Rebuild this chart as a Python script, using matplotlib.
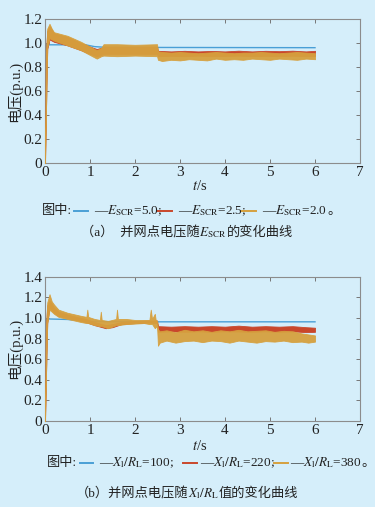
import numpy as np
import matplotlib.pyplot as plt
from matplotlib.lines import Line2D

plt.rcParams['mathtext.fontset'] = 'stix'
SERIF = ['Liberation Serif', 'Noto Sans CJK SC']

# ---- panel (a): voltage vs E_SCR (envelope of the oscillating waveforms) ----
a_blue_t = [0, 0.03, 0.06, 0.9, 1.1, 1.3, 2.5, 6.0]
a_blue_v = [0, 0.99, 0.985, 0.985, 0.97, 0.965, 0.963, 0.961]

a_red_t  = [0, 0.02, 0.05, 0.1, 0.15, 0.2, 0.5, 0.8, 1.0, 1.15, 1.25, 1.3, 1.6, 2.0, 2.49,
            2.51, 2.8, 3.1, 3.4, 3.7, 4.0, 4.3, 4.6, 4.9, 5.2, 5.5, 5.8, 6.0]
a_red_lo = [0, 0.4, 0.95, 1.03, 1.02, 1.01, 0.98, 0.94, 0.91, 0.89, 0.90, 0.91, 0.91, 0.91, 0.91,
            0.89, 0.893, 0.89, 0.895, 0.89, 0.892, 0.895, 0.89, 0.893, 0.89, 0.894, 0.89, 0.892]
a_red_hi = [0, 0.9, 1.10, 1.14, 1.11, 1.08, 1.05, 1.00, 0.97, 0.95, 0.96, 0.97, 0.97, 0.97, 0.97,
            0.935, 0.93, 0.935, 0.93, 0.934, 0.93, 0.936, 0.93, 0.935, 0.932, 0.936, 0.93, 0.935]

a_yel_t  = [0, 0.02, 0.05, 0.1, 0.15, 0.2, 0.5, 0.8, 1.0, 1.15, 1.25, 1.3, 1.6, 2.0, 2.49,
            2.51, 2.6, 2.8, 3.0, 3.2, 3.4, 3.6, 3.8, 4.0, 4.2, 4.4, 4.6, 4.8, 5.0, 5.2, 5.4, 5.6,
            5.8, 6.0]
a_yel_lo = [0, 0.4, 0.96, 1.04, 1.03, 1.02, 0.98, 0.94, 0.90, 0.87, 0.89, 0.895, 0.89, 0.895, 0.89,
            0.86, 0.85, 0.86, 0.855, 0.865, 0.86, 0.855, 0.87, 0.86, 0.865, 0.86, 0.87, 0.865,
            0.86, 0.87, 0.865, 0.86, 0.87, 0.865]
a_yel_hi = [0, 0.9, 1.12, 1.16, 1.12, 1.09, 1.06, 1.01, 0.97, 0.94, 0.96, 0.99, 0.99, 0.985, 0.99,
            0.93, 0.925, 0.92, 0.925, 0.92, 0.915, 0.92, 0.925, 0.92, 0.915, 0.92, 0.92, 0.925,
            0.92, 0.915, 0.92, 0.925, 0.92, 0.915]

# ---- panel (b): voltage vs X_l/R_L ----
b_blue_t = [0, 0.03, 0.06, 0.5, 1.0, 2.5, 6.0]
b_blue_v = [0, 0.99, 0.99, 0.985, 0.965, 0.962, 0.962]

b_red_t  = [0, 0.02, 0.05, 0.1, 0.2, 0.3, 0.6, 0.9, 1.1, 1.35, 1.5, 1.7, 2.0, 2.3, 2.49,
            2.51, 2.8, 3.1, 3.4, 3.7, 4.0, 4.3, 4.6, 4.9, 5.2, 5.5, 5.8, 6.0]
b_red_lo = [0, 0.4, 0.95, 1.10, 1.05, 1.02, 0.99, 0.96, 0.93, 0.90, 0.91, 0.94, 0.95, 0.955, 0.95,
            0.865, 0.87, 0.865, 0.87, 0.865, 0.87, 0.868, 0.865, 0.87, 0.865, 0.87, 0.862, 0.865]
b_red_hi = [0, 0.9, 1.12, 1.17, 1.10, 1.06, 1.02, 0.99, 0.96, 0.93, 0.94, 0.96, 0.97, 0.975, 0.975,
            0.92, 0.915, 0.92, 0.915, 0.92, 0.915, 0.925, 0.915, 0.92, 0.915, 0.92, 0.91, 0.905]

b_yel_t  = [0, 0.02, 0.05, 0.1, 0.15, 0.2, 0.3, 0.5, 0.7, 0.8, 0.92, 0.94, 0.96, 1.1, 1.22, 1.24,
            1.26, 1.4, 1.58, 1.6, 1.62, 1.8, 2.0, 2.2, 2.32, 2.35, 2.38, 2.44, 2.46, 2.49,
            2.51, 2.55, 2.7, 2.9, 3.1, 3.3, 3.5, 3.7, 3.9, 4.1, 4.3, 4.5, 4.7, 4.9, 5.1, 5.3,
            5.5, 5.7, 5.85, 6.0]
b_yel_lo = [0, 0.4, 0.95, 1.08, 1.06, 1.04, 1.01, 0.99, 0.97, 0.96, 0.95, 0.95, 0.95, 0.93, 0.92, 0.92,
            0.92, 0.90, 0.93, 0.93, 0.93, 0.94, 0.945, 0.95, 0.94, 0.94, 0.94, 0.90, 0.91, 0.92,
            0.73, 0.76, 0.78, 0.76, 0.775, 0.78, 0.765, 0.78, 0.775, 0.76, 0.78, 0.77, 0.76,
            0.775, 0.77, 0.78, 0.765, 0.77, 0.76, 0.77]
b_yel_hi = [0, 0.9, 1.15, 1.23, 1.16, 1.13, 1.08, 1.05, 1.03, 1.02, 1.01, 1.08, 1.01, 0.99, 0.98, 1.06,
            0.98, 0.97, 0.99, 1.08, 0.99, 0.99, 0.98, 0.98, 0.98, 1.08, 0.99, 1.04, 0.98, 0.97,
            0.89, 0.87, 0.88, 0.86, 0.885, 0.87, 0.88, 0.865, 0.88, 0.87, 0.885, 0.87, 0.875,
            0.88, 0.865, 0.875, 0.87, 0.85, 0.84, 0.83]

# legend labels
a_labels = [r'—$E_{\rm SCR}$=5.0;', r'—$E_{\rm SCR}$=2.5;', r'—$E_{\rm SCR}$=2.0']
b_labels = [r'—$X_{\rm l}/R_{\rm L}$=100;', r'—$X_{\rm l}/R_{\rm L}$=220;', r'—$X_{\rm l}/R_{\rm L}$=380']

BLUE = '#4a9fd6'
RED = '#c9472b'
YEL = '#d6a03e'
BG = '#d5eefa'
TXT = '#222222'

fig = plt.figure(figsize=(3.75, 5.07), dpi=100, facecolor=BG)
W, H = 375.0, 507.0


def setup_axes(ax, ymax):
    ax.set_facecolor(BG)
    ax.set_xlim(0, 7)
    ax.set_ylim(0, ymax)
    ax.set_xticks(range(8))
    yt = np.arange(0, ymax + 0.01, 0.2)
    ax.set_yticks(yt)
    ax.set_yticklabels(['0'] + ['%.1f' % v for v in yt[1:]])
    ax.tick_params(direction='in', top=True, right=True, length=3, width=0.7,
                   color='#777777', labelsize=11, labelcolor=TXT, pad=2)
    for lab in ax.get_xticklabels() + ax.get_yticklabels():
        lab.set_fontfamily('Liberation Serif')
    for s in ax.spines.values():
        s.set_color('#8c8c8c')
        s.set_linewidth(0.8)
    ax.set_ylabel('电压(p.u.)', family=SERIF, fontsize=10.5, labelpad=1, color=TXT)


def draw_panel(ax, bt, bv, rt, rlo, rhi, yt_, ylo, yhi):
    ax.plot(bt, bv, color=BLUE, lw=1.0, zorder=2)
    ax.fill_between(rt, rlo, rhi, color=RED, lw=0.6, edgecolor=RED, zorder=3)
    ax.fill_between(yt_, ylo, yhi, color=YEL, lw=0.6, edgecolor=YEL, zorder=4, alpha=0.95)


ax1 = fig.add_axes([0.12, 0.6785, 0.84, 0.284])
setup_axes(ax1, 1.2)
draw_panel(ax1, a_blue_t, a_blue_v, a_red_t, a_red_lo, a_red_hi, a_yel_t, a_yel_lo, a_yel_hi)

ax2 = fig.add_axes([0.12, 0.1696, 0.84, 0.2847])
setup_axes(ax2, 1.4)
draw_panel(ax2, b_blue_t, b_blue_v, b_red_t, b_red_lo, b_red_hi, b_yel_t, b_yel_lo, b_yel_hi)

renderer = fig.canvas.get_renderer()


def ftext(x, y, s, size=9.5):
    t = fig.text(x / W, 1 - y / H, s, family=SERIF, fontsize=size, ha='left', va='center', color=TXT)
    return x + t.get_window_extent(renderer).width


def fdash(x0, x1, y, c):
    fig.add_artist(Line2D([x0 / W, x1 / W], [1 - y / H, 1 - y / H], color=c, lw=1.4,
                          transform=fig.transFigure))


def centered(xc, y, parts, size=9.5):
    widths = []
    for s in parts:
        t = fig.text(0, 0, s, family=SERIF, fontsize=size)
        widths.append(t.get_window_extent(renderer).width)
        t.remove()
    x = xc - sum(widths) / 2
    for s in parts:
        x = ftext(x, y, s, size)


def legend_row(y, x_head, slots, labels):
    ftext(x_head, y, '图中:')
    end = 0
    for (x0, x1, xt), c, s in zip(slots, [BLUE, RED, YEL], labels):
        fdash(x0, x1, y, c)
        end = ftext(xt, y, s, 9.5)
    ftext(end, y, '。')


# x labels
centered(200, 186, [r'$t$/s'], size=10.5)
centered(200, 446, [r'$t$/s'], size=10.5)

# legend + caption (a)
legend_row(211, 42, [(74, 88, 94), (157, 172, 178), (241, 256, 262)], a_labels)
centered(187, 233, ['（a）  并网点电压随', r'$E_{\rm SCR}$', '的变化曲线'])

# legend + caption (b)
legend_row(463, 47, [(80, 93, 99), (183, 197, 200), (274, 288, 290)], b_labels)
centered(187, 494, ['（b）并网点电压随', r'$X_{\rm l}/R_{\rm L}$', '值的变化曲线'])

fig.savefig('out.png', dpi=100, facecolor=BG)
